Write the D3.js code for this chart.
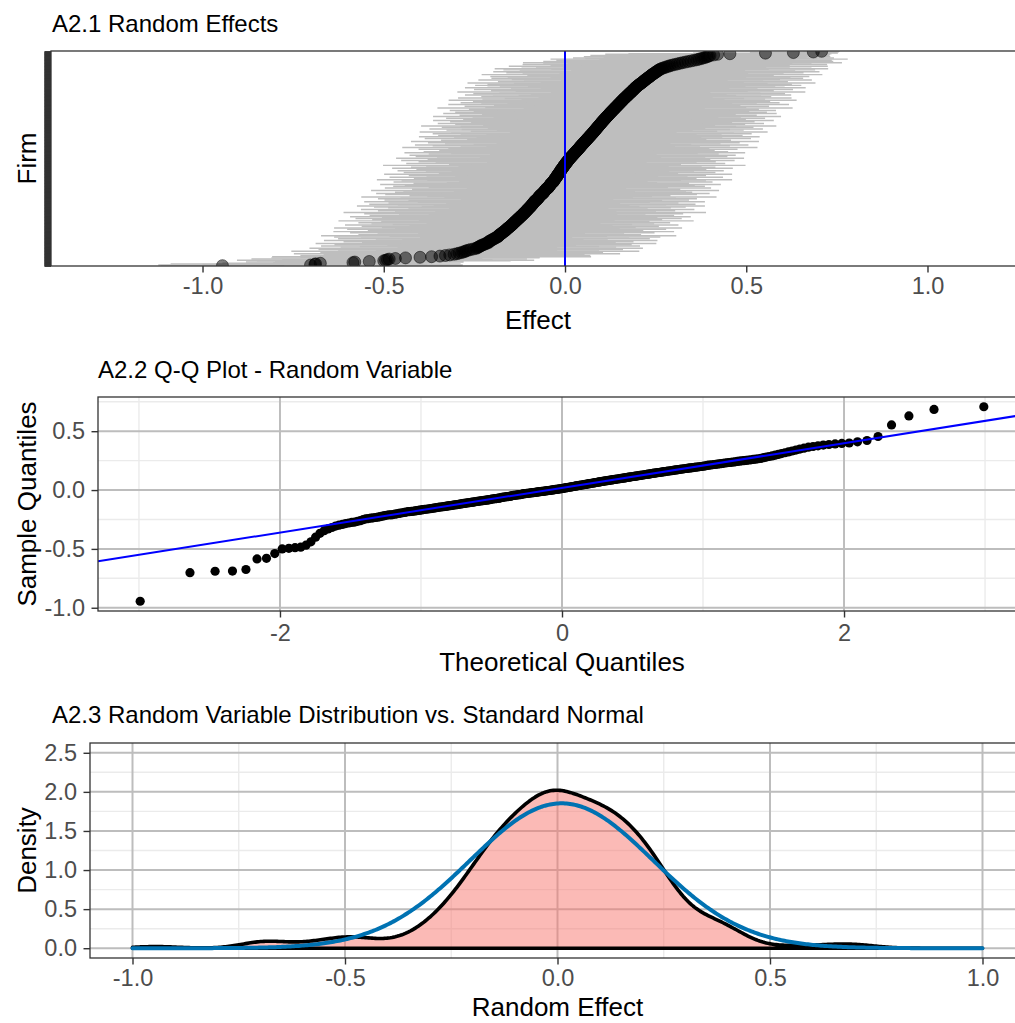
<!DOCTYPE html>
<html>
<head>
<meta charset="utf-8">
<script src="https://cdn.jsdelivr.net/npm/d3@7"></script>
<style>
  body { margin: 0; background: #fff; }
  svg { display: block; }
</style>
</head>
<body>
<svg id="chart" width="1015" height="1023"></svg>
<script>
// Estimated firm random effects, sorted from lowest to highest
const firmEffects = [
  -0.945, -0.702, -0.690, -0.688, -0.675, -0.585, -0.580, -0.540, -0.500, -0.495,
  -0.490, -0.485, -0.468, -0.440, -0.400, -0.368, -0.345, -0.330, -0.318, -0.306,
  -0.298, -0.292, -0.285, -0.280, -0.275, -0.272, -0.266, -0.260, -0.252, -0.245,
  -0.242, -0.239, -0.236, -0.233, -0.230, -0.226, -0.222, -0.218, -0.214, -0.210,
  -0.211, -0.208, -0.205, -0.202, -0.199, -0.196, -0.193, -0.190, -0.187, -0.184,
  -0.183, -0.182, -0.180, -0.177, -0.175, -0.173, -0.171, -0.169, -0.166, -0.164,
  -0.163, -0.161, -0.159, -0.157, -0.155, -0.153, -0.151, -0.149, -0.147, -0.145,
  -0.144, -0.142, -0.140, -0.139, -0.137, -0.135, -0.133, -0.132, -0.130, -0.128,
  -0.126, -0.125, -0.123, -0.121, -0.119, -0.118, -0.116, -0.114, -0.113, -0.111,
  -0.109, -0.108, -0.106, -0.105, -0.103, -0.102, -0.100, -0.098, -0.097, -0.095,
  -0.094, -0.092, -0.091, -0.090, -0.088, -0.087, -0.086, -0.084, -0.083, -0.082,
  -0.078, -0.077, -0.076, -0.074, -0.073, -0.072, -0.070, -0.069, -0.068, -0.066,
  -0.063, -0.061, -0.060, -0.059, -0.057, -0.056, -0.055, -0.053, -0.052, -0.051,
  -0.047, -0.046, -0.045, -0.044, -0.042, -0.041, -0.040, -0.039, -0.038, -0.036,
  -0.033, -0.032, -0.031, -0.030, -0.029, -0.028, -0.027, -0.025, -0.024, -0.023,
  -0.022, -0.021, -0.020, -0.019, -0.018, -0.016, -0.015, -0.014, -0.013, -0.012,
  -0.011, -0.010, -0.009, -0.007, -0.006, -0.005, -0.004, -0.003, -0.002, 0.000,
  0.001, 0.002, 0.003, 0.005, 0.006, 0.007, 0.008, 0.010, 0.011, 0.012,
  0.014, 0.015, 0.017, 0.018, 0.020, 0.021, 0.023, 0.024, 0.026, 0.027,
  0.029, 0.030, 0.032, 0.033, 0.035, 0.036, 0.038, 0.039, 0.041, 0.042,
  0.043, 0.045, 0.046, 0.048, 0.049, 0.051, 0.052, 0.054, 0.055, 0.057,
  0.058, 0.060, 0.061, 0.063, 0.064, 0.066, 0.067, 0.069, 0.070, 0.072,
  0.073, 0.075, 0.076, 0.078, 0.079, 0.080, 0.082, 0.083, 0.085, 0.086,
  0.087, 0.089, 0.090, 0.092, 0.093, 0.094, 0.096, 0.097, 0.099, 0.100,
  0.101, 0.103, 0.104, 0.106, 0.107, 0.109, 0.110, 0.112, 0.113, 0.115,
  0.116, 0.118, 0.119, 0.121, 0.122, 0.124, 0.125, 0.127, 0.128, 0.130,
  0.132, 0.133, 0.135, 0.136, 0.138, 0.140, 0.141, 0.143, 0.144, 0.146,
  0.148, 0.149, 0.151, 0.152, 0.154, 0.156, 0.157, 0.159, 0.160, 0.162,
  0.164, 0.165, 0.167, 0.169, 0.171, 0.172, 0.174, 0.176, 0.177, 0.179,
  0.181, 0.183, 0.184, 0.186, 0.188, 0.189, 0.191, 0.193, 0.194, 0.196,
  0.198, 0.200, 0.202, 0.204, 0.206, 0.209, 0.211, 0.213, 0.215, 0.217,
  0.219, 0.221, 0.223, 0.225, 0.227, 0.230, 0.232, 0.234, 0.236, 0.238,
  0.240, 0.243, 0.245, 0.248, 0.250, 0.252, 0.255, 0.257, 0.260, 0.262,
  0.266, 0.270, 0.275, 0.280, 0.285, 0.290, 0.296, 0.303, 0.310, 0.317,
  0.324, 0.332, 0.340, 0.348, 0.356, 0.364, 0.370, 0.376, 0.382, 0.387,
  0.392, 0.396, 0.400, 0.410, 0.421, 0.455, 0.553, 0.630, 0.685, 0.708
];

// Half-width of each firm's interval, in the same order as firmEffects
const intervalHalfWidth = [
  0.17, 0.42, 0.31, 0.40, 0.27, 0.22, 0.30, 0.26, 0.35, 0.41, 0.29, 0.38, 0.24, 0.37, 0.33, 0.44, 0.28, 0.40, 0.23, 0.36,
  0.45, 0.27, 0.39, 0.31, 0.48, 0.25, 0.36, 0.42, 0.29, 0.46, 0.22, 0.38, 0.33, 0.44, 0.26, 0.41, 0.30, 0.47, 0.24, 0.35,
  0.40, 0.28, 0.46, 0.32, 0.25, 0.43, 0.37, 0.21, 0.45, 0.30, 0.49, 0.27, 0.39, 0.34, 0.23, 0.42, 0.36, 0.47, 0.29, 0.38,
  0.26, 0.44, 0.31, 0.48, 0.35, 0.22, 0.41, 0.28, 0.46, 0.33, 0.39, 0.24, 0.43, 0.30, 0.37, 0.49, 0.27, 0.40, 0.32, 0.45,
  0.23, 0.38, 0.47, 0.29, 0.42, 0.34, 0.26, 0.44, 0.31, 0.50, 0.36, 0.25, 0.41, 0.28, 0.46, 0.33, 0.22, 0.39, 0.43, 0.30,
  0.48, 0.27, 0.37, 0.45, 0.24, 0.40, 0.32, 0.47, 0.29, 0.35, 0.42, 0.21, 0.44, 0.38, 0.26, 0.49, 0.31, 0.36, 0.23, 0.43,
  0.34, 0.46, 0.28, 0.41, 0.25, 0.39, 0.48, 0.30, 0.37, 0.22, 0.45, 0.33, 0.27, 0.43, 0.40, 0.24, 0.47, 0.32, 0.38, 0.29,
  0.44, 0.26, 0.42, 0.35, 0.49, 0.23, 0.39, 0.31, 0.46, 0.28, 0.36, 0.41, 0.25, 0.48, 0.33, 0.21, 0.43, 0.37, 0.30, 0.45,
  0.27, 0.40, 0.34, 0.47, 0.24, 0.42, 0.29, 0.38, 0.50, 0.32, 0.26, 0.44, 0.36, 0.22, 0.41, 0.31, 0.46, 0.28, 0.39, 0.35,
  0.48, 0.25, 0.37, 0.43, 0.30, 0.45, 0.23, 0.40, 0.34, 0.47, 0.27, 0.42, 0.32, 0.38, 0.21, 0.44, 0.36, 0.29, 0.49, 0.33,
  0.26, 0.41, 0.46, 0.30, 0.38, 0.24, 0.43, 0.35, 0.48, 0.28, 0.40, 0.33, 0.22, 0.45, 0.37, 0.31, 0.47, 0.25, 0.42, 0.36,
  0.29, 0.44, 0.39, 0.23, 0.48, 0.34, 0.27, 0.41, 0.37, 0.46, 0.30, 0.25, 0.43, 0.38, 0.49, 0.32, 0.21, 0.40, 0.45, 0.28,
  0.36, 0.42, 0.26, 0.47, 0.33, 0.39, 0.24, 0.44, 0.31, 0.37, 0.48, 0.28, 0.41, 0.35, 0.22, 0.46, 0.30, 0.43, 0.38, 0.27,
  0.45, 0.32, 0.40, 0.25, 0.49, 0.36, 0.29, 0.42, 0.34, 0.23, 0.47, 0.38, 0.31, 0.44, 0.26, 0.41, 0.35, 0.48, 0.28, 0.39,
  0.33, 0.46, 0.24, 0.40, 0.37, 0.30, 0.45, 0.27, 0.43, 0.36, 0.22, 0.48, 0.32, 0.39, 0.29, 0.44, 0.34, 0.26, 0.47, 0.41,
  0.30, 0.38, 0.45, 0.25, 0.42, 0.35, 0.48, 0.28, 0.40, 0.33, 0.23, 0.46, 0.37, 0.31, 0.43, 0.27, 0.39, 0.44, 0.34, 0.29,
  0.47, 0.36, 0.26, 0.41, 0.32, 0.45, 0.38, 0.24, 0.43, 0.30, 0.46, 0.35, 0.28, 0.40, 0.44, 0.33, 0.25, 0.42, 0.37, 0.31,
  0.44, 0.29, 0.40, 0.34, 0.38, 0.27, 0.41, 0.32, 0.36, 0.28, 0.34, 0.30, 0.33, 0.26, 0.31, 0.28, 0.20, 0.12, 0.07, 0.05
];

// Axis ticks
const effectTicks = [-1.0, -0.5, 0.0, 0.5, 1.0];
const theoreticalTicks = [-2, 0, 2];
const theoreticalMinor = [-3, -1, 1, 3];
const sampleTicks = [-1.0, -0.5, 0.0, 0.5];
const sampleMinor = [-0.75, -0.25, 0.25, 0.75];
const densityTicks = [0.0, 0.5, 1.0, 1.5, 2.0, 2.5];
const densityMinor = [0.25, 0.75, 1.25, 1.75, 2.25];
const randomEffectTicks = [-1.0, -0.5, 0.0, 0.5, 1.0];
const randomEffectMinor = [-0.75, -0.25, 0.25, 0.75];

// Panel titles
const titles = [
  "A2.1 Random Effects",
  "A2.2 Q-Q Plot - Random Variable",
  "A2.3 Random Variable Distribution vs. Standard Normal"
];

const FONT = '"Liberation Sans", Arial, Helvetica, sans-serif';
const TICK_COLOR = "#333333";
const LABEL_COLOR = "#4D4D4D";
const MAJOR_GRID = "#BDBDBD";
const MINOR_GRID = "#EBEBEB";
const TICK_FONT = 23.5;

const svg = d3.select("#chart");
svg.append("rect").attr("width", 1015).attr("height", 1023).attr("fill", "#fff");

// Inverse standard normal CDF (Acklam's rational approximation)
function qnorm(p) {
  const a = [-3.969683028665376e+01, 2.209460984245205e+02, -2.759285104469687e+02, 1.383577518672690e+02, -3.066479806614716e+01, 2.506628277459239e+00];
  const b = [-5.447609879822406e+01, 1.615858368580409e+02, -1.556989798598866e+02, 6.680131188771972e+01, -1.328068155288572e+01];
  const c = [-7.784894002430293e-03, -3.223964580411365e-01, -2.400758277161838e+00, -2.549732539343734e+00, 4.374664141464968e+00, 2.938163982698783e+00];
  const d = [7.784695709041462e-03, 3.224671290700398e-01, 2.445134137142996e+00, 3.754408661907416e+00];
  const pl = 0.02425, ph = 1 - pl;
  let q, r;
  if (p < pl) {
    q = Math.sqrt(-2 * Math.log(p));
    return (((((c[0]*q+c[1])*q+c[2])*q+c[3])*q+c[4])*q+c[5]) / ((((d[0]*q+d[1])*q+d[2])*q+d[3])*q+1);
  }
  if (p > ph) {
    q = Math.sqrt(-2 * Math.log(1 - p));
    return -(((((c[0]*q+c[1])*q+c[2])*q+c[3])*q+c[4])*q+c[5]) / ((((d[0]*q+d[1])*q+d[2])*q+d[3])*q+1);
  }
  q = p - 0.5; r = q * q;
  return (((((a[0]*r+a[1])*r+a[2])*r+a[3])*r+a[4])*r+a[5])*q / (((((b[0]*r+b[1])*r+b[2])*r+b[3])*r+b[4])*r+1);
}
const dnorm = (x, m, s) => Math.exp(-0.5 * ((x - m) / s) ** 2) / (s * Math.sqrt(2 * Math.PI));

const n = firmEffects.length;
const ranks = d3.range(1, n + 1);
const firms = ranks.map((r, i) => ({ rank: r, effect: firmEffects[i], hw: intervalHalfWidth[i] }));

// ---------- helpers ----------
function styleAxis(g) {
  g.attr("font-family", FONT).attr("font-size", TICK_FONT);
  g.select(".domain").remove();
  g.selectAll(".tick line").attr("stroke", TICK_COLOR).attr("stroke-width", 1.4);
  g.selectAll(".tick text").attr("fill", LABEL_COLOR);
}
function title(text, x, y) {
  svg.append("text").attr("x", x).attr("y", y)
    .attr("font-family", FONT).attr("font-size", 24).attr("fill", "#000").text(text);
}
function xTitle(text, x, y) {
  svg.append("text").attr("x", x).attr("y", y).attr("text-anchor", "middle")
    .attr("font-family", FONT).attr("font-size", 26).attr("fill", "#000").text(text);
}
function yTitle(text, x, y) {
  svg.append("text").attr("transform", `translate(${x},${y}) rotate(-90)`).attr("text-anchor", "middle")
    .attr("font-family", FONT).attr("font-size", 26).attr("fill", "#000").text(text);
}
function grid(g, p, xs, ys, xVals, yVals, color, width) {
  g.selectAll(null).data(xVals).join("line")
    .attr("x1", d => xs(d)).attr("x2", d => xs(d)).attr("y1", p.top).attr("y2", p.bottom)
    .attr("stroke", color).attr("stroke-width", width);
  g.selectAll(null).data(yVals).join("line")
    .attr("y1", d => ys(d)).attr("y2", d => ys(d)).attr("x1", p.left).attr("x2", p.right)
    .attr("stroke", color).attr("stroke-width", width);
}
function clip(id, p) {
  svg.append("clipPath").attr("id", id).append("rect")
    .attr("x", p.left).attr("y", p.top).attr("width", p.right - p.left).attr("height", p.bottom - p.top);
}
function border(p) {
  svg.append("rect").attr("x", p.left).attr("y", p.top)
    .attr("width", p.right - p.left).attr("height", p.bottom - p.top)
    .attr("fill", "none").attr("stroke", TICK_COLOR).attr("stroke-width", 1.3);
}
const fmt1 = d => d.toFixed(1);

// ---------- Panel 1: random effects with intervals ----------
const p1 = { left: 51, right: 1025, top: 51, bottom: 266 };
const x1 = d3.scaleLinear().domain([-1.418, 1.269]).range([p1.left, p1.right]);
const y1 = d3.scalePoint().domain(ranks).range([p1.bottom, p1.top]).padding(0.6);
clip("clip1", p1);
const g1 = svg.append("g").attr("clip-path", "url(#clip1)");

g1.selectAll("line.ci").data(firms).join("line").attr("class", "ci")
  .attr("x1", d => x1(d.effect - d.hw)).attr("x2", d => x1(d.effect + d.hw))
  .attr("y1", d => y1(d.rank)).attr("y2", d => y1(d.rank))
  .attr("stroke", "#BEBEBE").attr("stroke-width", 1.45);

g1.selectAll("circle").data(firms).join("circle")
  .attr("cx", d => x1(d.effect)).attr("cy", d => y1(d.rank)).attr("r", 6)
  .attr("fill", "#000").attr("fill-opacity", 0.5)
  .attr("stroke", "#000").attr("stroke-opacity", 0.5).attr("stroke-width", 1);

g1.append("line").attr("x1", x1(0)).attr("x2", x1(0)).attr("y1", p1.top).attr("y2", p1.bottom)
  .attr("stroke", "#0000FF").attr("stroke-width", 2);

border(p1);
svg.append("g").attr("transform", `translate(0,${p1.bottom})`)
  .call(d3.axisBottom(x1).tickValues(effectTicks).tickFormat(fmt1).tickSize(6.5).tickPadding(5))
  .call(styleAxis);
svg.append("g").attr("transform", `translate(${p1.left},0)`)
  .call(d3.axisLeft(y1).tickFormat("").tickSize(6.5))
  .call(g => { g.select(".domain").remove(); g.selectAll(".tick line").attr("stroke", TICK_COLOR).attr("stroke-width", 1.6); });

title(titles[0], 52, 32);
xTitle("Effect", (p1.left + p1.right) / 2, 329);
yTitle("Firm", 36, (p1.top + p1.bottom) / 2);

// ---------- Panel 2: Q-Q plot ----------
const p2 = { left: 98, right: 1026, top: 397, bottom: 611 };
const theo = ranks.map(i => qnorm((i - 0.5) / n));
const qq = firms.map((d, i) => ({ t: theo[i], s: d.effect }));
const tExt = d3.extent(theo), sExt = d3.extent(firmEffects);
const tPad = (tExt[1] - tExt[0]) * 0.05, sPad = (sExt[1] - sExt[0]) * 0.05;
const x2 = d3.scaleLinear().domain([tExt[0] - tPad, tExt[1] + tPad]).range([p2.left, p2.right]);
const y2 = d3.scaleLinear().domain([sExt[0] - sPad, sExt[1] + sPad]).range([p2.bottom, p2.top]);
clip("clip2", p2);
const g2 = svg.append("g").attr("clip-path", "url(#clip2)");
grid(g2, p2, x2, y2, theoreticalMinor, sampleMinor, MINOR_GRID, 1.4);
grid(g2, p2, x2, y2, theoreticalTicks, sampleTicks, MAJOR_GRID, 2);

g2.selectAll("circle").data(qq).join("circle")
  .attr("cx", d => x2(d.t)).attr("cy", d => y2(d.s)).attr("r", 4.6).attr("fill", "#000");

// Reference line through the first and third quartiles
const q1 = d3.quantile(firmEffects, 0.25), q3 = d3.quantile(firmEffects, 0.75);
const slope = (q3 - q1) / (qnorm(0.75) - qnorm(0.25));
const intercept = q1 - slope * qnorm(0.25);
const [xa, xb] = x2.domain();
g2.append("line")
  .attr("x1", x2(xa)).attr("y1", y2(intercept + slope * xa))
  .attr("x2", x2(xb)).attr("y2", y2(intercept + slope * xb))
  .attr("stroke", "#0000FF").attr("stroke-width", 2);

border(p2);
svg.append("g").attr("transform", `translate(0,${p2.bottom})`)
  .call(d3.axisBottom(x2).tickValues(theoreticalTicks).tickFormat(d => String(d)).tickSize(6.5).tickPadding(7))
  .call(styleAxis);
svg.append("g").attr("transform", `translate(${p2.left},0)`)
  .call(d3.axisLeft(y2).tickValues(sampleTicks).tickFormat(fmt1).tickSize(6.5).tickPadding(6.5))
  .call(styleAxis);

title(titles[1], 98, 378);
xTitle("Theoretical Quantiles", (p2.left + p2.right) / 2, 671);
yTitle("Sample Quantiles", 36, (p2.top + p2.bottom) / 2);

// ---------- Panel 3: kernel density vs normal curve ----------
const p3 = { left: 90, right: 1025, top: 743, bottom: 958 };
const x3 = d3.scaleLinear().domain([-1.1, 1.1]).range([p3.left, p3.right]);
const y3 = d3.scaleLinear().domain([-0.125, 2.625]).range([p3.bottom, p3.top]);
clip("clip3", p3);
const g3 = svg.append("g").attr("clip-path", "url(#clip3)");
grid(g3, p3, x3, y3, randomEffectMinor, densityMinor, MINOR_GRID, 1.4);
grid(g3, p3, x3, y3, randomEffectTicks, densityTicks, MAJOR_GRID, 2);

const mean = d3.mean(firmEffects), sd = d3.deviation(firmEffects);
const bw = 0.9 * Math.min(sd, (q3 - q1) / 1.34) * Math.pow(n, -0.2);
const evalPts = d3.range(512).map(i => -1 + 2 * i / 511);
const kde = evalPts.map(x => [x, d3.mean(firmEffects, v => dnorm(x, v, bw))]);
const normal = evalPts.map(x => [x, dnorm(x, mean, sd)]);

g3.append("path").datum(kde)
  .attr("d", d3.area().x(d => x3(d[0])).y0(y3(0)).y1(d => y3(d[1])))
  .attr("fill", "#F8766D").attr("fill-opacity", 0.5)
  .attr("stroke", "#000").attr("stroke-width", 3.6).attr("stroke-linejoin", "round");

g3.append("path").datum(normal)
  .attr("d", d3.line().x(d => x3(d[0])).y(d => y3(d[1])))
  .attr("fill", "none").attr("stroke", "#0072B2").attr("stroke-width", 4).attr("stroke-linecap", "round");

border(p3);
svg.append("g").attr("transform", `translate(0,${p3.bottom})`)
  .call(d3.axisBottom(x3).tickValues(randomEffectTicks).tickFormat(fmt1).tickSize(6.5).tickPadding(5))
  .call(styleAxis);
svg.append("g").attr("transform", `translate(${p3.left},0)`)
  .call(d3.axisLeft(y3).tickValues(densityTicks).tickFormat(fmt1).tickSize(6.5).tickPadding(6.5))
  .call(styleAxis);

title(titles[2], 52, 723);
xTitle("Random Effect", (p3.left + p3.right) / 2, 1016);
yTitle("Density", 36, (p3.top + p3.bottom) / 2);
</script>
</body>
</html>
